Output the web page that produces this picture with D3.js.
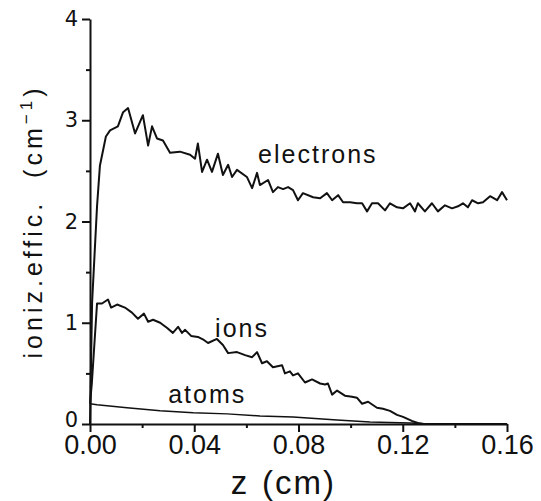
<!DOCTYPE html>
<html>
<head>
<meta charset="utf-8">
<script src="https://cdn.jsdelivr.net/npm/d3@7"></script>
<style>
  body { margin: 0; background: #fff; }
  svg { display: block; }
  text { font-family: "Liberation Sans", Arial, sans-serif; fill: #111; }
</style>
</head>
<body>
<svg></svg>
<script>
// curves (z in cm, ionization efficiency in 1/cm)
var zElectrons = [0, 0.0008, 0.0027, 0.0038, 0.0061, 0.0077, 0.0107, 0.0127, 0.0146, 0.0173,
  0.0203, 0.0223, 0.0238, 0.0257, 0.0280, 0.0307, 0.0345, 0.0384, 0.0403, 0.0414,
  0.0430, 0.0449, 0.0468, 0.0491, 0.0510, 0.0530, 0.0545, 0.0564, 0.0602, 0.0622,
  0.0641, 0.0652, 0.0683, 0.0702, 0.0721, 0.0741, 0.0760, 0.0779, 0.0798, 0.0817,
  0.0856, 0.0883, 0.0909, 0.0929, 0.0952, 0.0971, 0.0998, 0.1024, 0.1044, 0.1063,
  0.1082, 0.1105, 0.1132, 0.1151, 0.1178, 0.1201, 0.1228, 0.1247, 0.1258, 0.1285,
  0.1312, 0.1335, 0.1362, 0.1389, 0.1412, 0.1431, 0.1450, 0.1466, 0.1489, 0.1508,
  0.1535, 0.1562, 0.1581, 0.1600];
var electrons = [0, 1.2, 2.15, 2.55, 2.84, 2.90, 2.94, 3.08, 3.12, 2.87,
  3.05, 2.75, 2.94, 2.82, 2.80, 2.68, 2.69, 2.66, 2.62, 2.77,
  2.49, 2.61, 2.49, 2.67, 2.46, 2.56, 2.44, 2.51, 2.44, 2.33,
  2.48, 2.36, 2.41, 2.29, 2.34, 2.32, 2.34, 2.31, 2.21, 2.28,
  2.24, 2.23, 2.28, 2.21, 2.26, 2.19, 2.19, 2.18, 2.18, 2.10,
  2.18, 2.18, 2.11, 2.18, 2.14, 2.13, 2.18, 2.10, 2.18, 2.10,
  2.18, 2.10, 2.16, 2.13, 2.15, 2.18, 2.14, 2.21, 2.18, 2.19,
  2.25, 2.21, 2.29, 2.21];

var zIons = [0, 0.0007, 0.0027, 0.0046, 0.0069, 0.0081, 0.0104, 0.0134, 0.0161, 0.0184,
  0.0207, 0.0223, 0.0242, 0.0269, 0.0295, 0.0318, 0.0338, 0.0353, 0.0365, 0.0388,
  0.0414, 0.0437, 0.0453, 0.0487, 0.0510, 0.0530, 0.0564, 0.0595, 0.0622, 0.0641,
  0.0660, 0.0679, 0.0702, 0.0737, 0.0748, 0.0767, 0.0779, 0.0798, 0.0825, 0.0852,
  0.0883, 0.0902, 0.0913, 0.0929, 0.0948, 0.0978, 0.1005, 0.1024, 0.1044, 0.1067,
  0.1101, 0.1124, 0.1151, 0.1178, 0.1201, 0.1235, 0.1258, 0.1280, 0.1600];
var ions = [0.2, 0.4, 1.19, 1.19, 1.23, 1.15, 1.18, 1.15, 1.10, 1.04,
  1.09, 1.01, 1.03, 1.00, 0.95, 0.90, 0.96, 0.90, 0.93, 0.87,
  0.86, 0.83, 0.80, 0.84, 0.78, 0.70, 0.71, 0.68, 0.66, 0.71,
  0.60, 0.62, 0.56, 0.58, 0.50, 0.52, 0.48, 0.50, 0.41, 0.44,
  0.40, 0.39, 0.40, 0.29, 0.33, 0.28, 0.27, 0.26, 0.20, 0.22,
  0.16, 0.15, 0.13, 0.09, 0.07, 0.03, 0.01, 0, 0];

var zAtoms = [0, 0.0027, 0.0142, 0.0269, 0.0396, 0.0526, 0.0652, 0.0779, 0.0948, 0.1074, 0.1228, 0.1300, 0.1600];
var atoms = [0.2, 0.19, 0.16, 0.13, 0.11, 0.10, 0.08, 0.07, 0.04, 0.02, 0.01, 0, 0];

var xMajor = [0, 0.04, 0.08, 0.12, 0.16];
var xMinor = [0.02, 0.06, 0.10, 0.14];
var yMajor = [0, 1, 2, 3, 4];
var yMinor = [0.5, 1.5, 2.5, 3.5];

var curveNames = ['electrons', 'ions', 'atoms'];
var labelAt = [[0.0645, 2.58], [0.0480, 0.86], [0.0300, 0.21]]; // where the names sit, in data units

var svgWidth = 541, svgHeight = 501;
var margin = { top: 19, right: 34, bottom: 77, left: 90 };
var width = svgWidth - margin.left - margin.right;
var height = svgHeight - margin.top - margin.bottom;

var svg = d3.select('svg')
    .attr('width', svgWidth)
    .attr('height', svgHeight);

var g = svg.append('g')
    .attr('transform', 'translate(' + margin.left + ',' + margin.top + ')');

var x = d3.scaleLinear().domain([0, 0.16]).range([0, width]);
var y = d3.scaleLinear().domain([0, 4]).range([height, 0]);

// axes: major ticks with labels, minor ticks without
var xAx = g.append('g')
    .attr('transform', 'translate(0,' + height + ')')
    .call(d3.axisBottom(x).tickValues(xMajor).tickFormat(d3.format('.2f')).tickSize(8).tickSizeOuter(0).tickPadding(3));
xAx.selectAll('text').style('font-size', '27px').style('font-family', '"Liberation Sans", Arial, sans-serif');

g.append('g')
    .attr('transform', 'translate(0,' + height + ')')
    .call(d3.axisBottom(x).tickValues(xMinor).tickFormat('').tickSize(4))
    .select('.domain').remove();

var yAx = g.append('g')
    .call(d3.axisLeft(y).tickValues(yMajor).tickFormat(d3.format('d')).tickSize(8).tickSizeOuter(0).tickPadding(4));
yAx.selectAll('text').style('font-size', '21px').style('font-family', '"DejaVu Sans", sans-serif');
// the "0" sits a little above its tick so it does not run into "0.00"
yAx.selectAll('text').filter(function(d) { return d === 0; }).attr('dy', '0.1em');

g.append('g')
    .call(d3.axisLeft(y).tickValues(yMinor).tickFormat('').tickSize(4))
    .select('.domain').remove();

g.selectAll('.domain, .tick line')
    .attr('stroke', '#111')
    .attr('stroke-width', 2);
g.selectAll('.tick text').attr('fill', '#111');

// curves
var line = d3.line()
    .x(function(d) { return x(d[0]); })
    .y(function(d) { return y(d[1]); });

var series = [
  { z: zElectrons, v: electrons, w: 2 },
  { z: zIons, v: ions, w: 2 },
  { z: zAtoms, v: atoms, w: 1.5 }
];

series.forEach(function(s) {
  g.append('path')
      .datum(s.z.map(function(z, i) { return [z, s.v[i]]; }))
      .attr('fill', 'none')
      .attr('stroke', '#111')
      .attr('stroke-width', s.w)
      .attr('stroke-linejoin', 'round')
      .attr('d', line);
});

g.selectAll('.curve-label')
    .data(curveNames)
    .enter()
    .append('text')
    .attr('class', 'curve-label')
    .attr('x', function(d, i) { return x(labelAt[i][0]); })
    .attr('y', function(d, i) { return y(labelAt[i][1]); })
    .style('font-size', '25px')
    .style('letter-spacing', '2px')
    .text(function(d) { return d; });

// axis titles
svg.append('text')
    .attr('x', 239)
    .attr('y', 494)
    .attr('text-anchor', 'middle')
    .style('font-size', '33px')
    .text('z');
svg.append('text')
    .attr('x', 262)
    .attr('y', 494)
    .style('font-size', '33px')
    .style('letter-spacing', '2px')
    .text('(cm)');

var yTitle = svg.append('text')
    .attr('transform', 'translate(42,' + (margin.top + height / 2) + ') rotate(-90)')
    .attr('text-anchor', 'middle')
    .style('font-size', '25px')
    .style('letter-spacing', '4px')
    .style('white-space', 'pre');
yTitle.append('tspan').text('ioniz.effic.  (cm');
yTitle.append('tspan').attr('dy', -10).style('font-size', '17px').text('\u22121');
yTitle.append('tspan').attr('dy', 10).text(')');
</script>
</body>
</html>
